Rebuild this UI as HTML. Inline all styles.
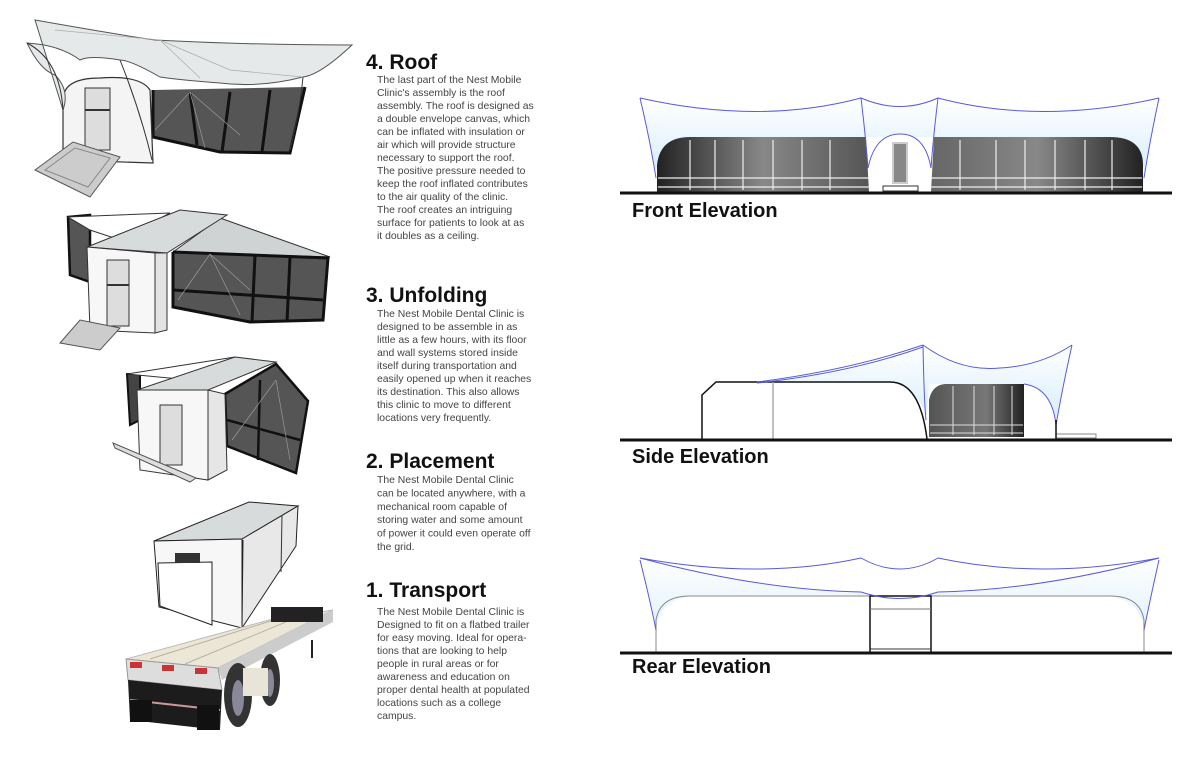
<!DOCTYPE html>
<html><head><meta charset="utf-8"><style>
html,body{margin:0;padding:0;background:#fff;}
svg{display:block;}
.h{font-family:"Liberation Sans",sans-serif;font-weight:bold;fill:#111;}
.b{font-family:"Liberation Sans",sans-serif;font-size:10.4px;fill:#444;}
</style></head><body>
<svg width="1200" height="776" viewBox="0 0 1200 776" xmlns="http://www.w3.org/2000/svg">
<defs>
<linearGradient id="gl" x1="0" x2="1"><stop offset="0" stop-color="#222"/><stop offset="0.5" stop-color="#888"/><stop offset="1" stop-color="#555"/></linearGradient>
<linearGradient id="gr" x1="0" x2="1"><stop offset="0" stop-color="#666"/><stop offset="0.5" stop-color="#888"/><stop offset="1" stop-color="#222"/></linearGradient>
<linearGradient id="gs" x1="0" x2="1"><stop offset="0" stop-color="#555"/><stop offset="0.6" stop-color="#777"/><stop offset="1" stop-color="#222"/></linearGradient>
<linearGradient id="sky" x1="0" y1="0" x2="0" y2="1"><stop offset="0" stop-color="#fff"/><stop offset="1" stop-color="#d8eefb"/></linearGradient>
</defs>

<!-- ===== IMAGE 1: roof ===== -->
<g>
<polygon points="153,90 305,87 290,153 220,152 153,137" fill="#555"/>
<g stroke="#111" stroke-width="3" fill="none"><polyline points="153,90 153,137 220,152 290,153 305,87"/><line x1="190" y1="92" x2="197" y2="145"/><line x1="230" y1="92" x2="222" y2="152"/><line x1="270" y1="90" x2="262" y2="152"/></g>
<g stroke="#999" stroke-width="0.7"><line x1="190" y1="92" x2="155" y2="130"/><line x1="190" y1="92" x2="205" y2="148"/><line x1="190" y1="92" x2="240" y2="135"/></g>
<path d="M63,160 L63,100 Q63,78 100,78 Q140,75 150,90 L153,163 Z" fill="#f4f4f4" stroke="#333" stroke-width="1.2"/>
<rect x="85" y="88" width="25" height="62" fill="#ddd" stroke="#333"/>
<line x1="85" y1="110" x2="110" y2="110" stroke="#333" stroke-width="2"/>
<polygon points="35,170 73,142 120,157 90,197" fill="#ccc" stroke="#555"/>
<polygon points="45,170 75,148 110,158 88,187" fill="none" stroke="#888"/>
<path d="M35,20 Q120,35 155,40 Q250,45 352,45 Q320,75 303,77 Q260,88 220,83 Q180,80 160,77 Q130,60 120,60 Q90,55 80,60 Q60,45 27,43 Q40,70 55,75 Q70,90 63,110 Z" fill="#e6e9e9" stroke="#555"/>
<path d="M27,43 Q60,60 63,110 M120,60 Q140,110 152,160 M303,77 Q300,110 290,150" stroke="#333" fill="none"/>
<path d="M55,30 L160,40 L230,70 L303,77 M160,40 L200,78" stroke="#aaa" fill="none" stroke-width="0.7"/>
</g>

<!-- ===== IMAGE 2: unfolding ===== -->
<g>
<polygon points="68,217 90,215 90,282 70,275" fill="#555" stroke="#111" stroke-width="2.5"/>
<polygon points="68,217 170,213 120,240 90,230" fill="#fff" stroke="#333"/>
<polygon points="220,218 330,257 173,252" fill="#cfd3d3" stroke="#333"/>
<polygon points="173,252 328,258 323,320 250,322 173,307" fill="#555"/>
<g stroke="#111" stroke-width="3" fill="none"><polyline points="173,252 328,258 323,320 250,322 173,307 173,252"/><line x1="255" y1="255" x2="252" y2="322"/><line x1="290" y1="257" x2="287" y2="322"/><line x1="173" y1="290" x2="323" y2="300"/></g>
<g stroke="#999" stroke-width="0.7"><line x1="210" y1="254" x2="178" y2="300"/><line x1="210" y1="254" x2="240" y2="315"/><line x1="210" y1="254" x2="250" y2="290"/></g>
<polygon points="87,247 180,210 227,215 167,253" fill="#d7dbdb" stroke="#333"/>
<polygon points="87,247 155,253 155,333 90,330" fill="#f7f7f7" stroke="#333"/>
<polygon points="155,253 167,253 167,330 155,333" fill="#e3e3e3" stroke="#333"/>
<rect x="107" y="260" width="22" height="66" fill="#ddd" stroke="#333"/>
<line x1="107" y1="285" x2="129" y2="285" stroke="#333" stroke-width="2"/>
<polygon points="60,343 80,320 120,328 100,350" fill="#ccc" stroke="#555"/>
</g>

<!-- ===== IMAGE 3 ===== -->
<g>
<polygon points="127,374 140,374 140,420 130,425" fill="#444" stroke="#111" stroke-width="2"/>
<polygon points="127,374 235,357 190,380" fill="#fff" stroke="#333"/>
<polygon points="225,394 276,364 308,401 296,473 227,446" fill="#555"/>
<g stroke="#111" stroke-width="2.5" fill="none"><polygon points="225,394 276,364 308,401 296,473 227,446"/><line x1="260" y1="380" x2="258" y2="460"/><line x1="227" y1="420" x2="300" y2="440"/></g>
<g stroke="#999" stroke-width="0.7"><line x1="276" y1="380" x2="232" y2="440"/><line x1="276" y1="380" x2="290" y2="460"/></g>
<polygon points="137,390 235,357 276,362 208,390" fill="#d7dbdb" stroke="#333"/>
<polygon points="137,390 208,390 208,480 140,470" fill="#f7f7f7" stroke="#333"/>
<polygon points="208,390 225,394 227,470 208,480" fill="#e6e6e6" stroke="#333"/>
<rect x="160" y="405" width="22" height="60" fill="#ddd" stroke="#333"/>
<polygon points="113,443 196,478 190,482 115,448" fill="#ddd" stroke="#555"/>
</g>

<!-- ===== IMAGE 4 box ===== -->
<g>
<polygon points="154,541 249,502 298,506 242,539" fill="#d7dbdb" stroke="#222"/>
<polygon points="154,541 242,539 242,628 159,607" fill="#f7f7f7" stroke="#222"/>
<polygon points="242,539 298,506 296,546 242,628" fill="#e8e8e8" stroke="#222"/>
<line x1="243" y1="540" x2="242" y2="628" stroke="#222"/>
<line x1="282" y1="515" x2="281" y2="572" stroke="#333"/>
<polygon points="158,563 212,562 212,625 160,606" fill="#fff" stroke="#222"/>
<rect x="175" y="553" width="25" height="10" fill="#333"/>
</g>

<!-- ===== IMAGE 5 trailer ===== -->
<g>
<polygon points="126,659 218,668 333,610 269,620" fill="#ece6d6" stroke="#bbb"/>
<line x1="150" y1="659" x2="280" y2="618" stroke="#b9b2a0"/><line x1="185" y1="664" x2="305" y2="614" stroke="#b9b2a0"/>
<polygon points="218,668 333,610 333,622 222,680" fill="#ccc"/>
<rect x="271" y="607" width="52" height="15" fill="#222"/>
<polygon points="126,659 218,668 222,690 128,680" fill="#ddd" stroke="#999"/>
<rect x="130" y="662" width="12" height="6" fill="#c33"/><rect x="162" y="665" width="12" height="6" fill="#c33"/><rect x="195" y="668" width="12" height="6" fill="#c33"/>
<polygon points="128,680 222,690 220,730 130,720" fill="#1c1c1c"/>
<line x1="130" y1="700" x2="220" y2="710" stroke="#c99" stroke-width="2"/>
<rect x="130" y="700" width="22" height="22" fill="#111"/><rect x="197" y="705" width="22" height="25" fill="#111"/>
<ellipse cx="238" cy="695" rx="14" ry="32" fill="#333"/><ellipse cx="238" cy="698" rx="6" ry="18" fill="#889"/>
<ellipse cx="270" cy="680" rx="10" ry="26" fill="#333"/><ellipse cx="270" cy="683" rx="4" ry="14" fill="#889"/>
<rect x="243" y="668" width="25" height="28" fill="#e8e4d8"/>
<line x1="312" y1="640" x2="312" y2="658" stroke="#222" stroke-width="2"/>
</g>

<!-- ===== TEXT ===== -->
<text class="h" x="366" y="69" font-size="21">4. Roof</text>
<g class="b">
<text x="377" y="83">The last part of the Nest Mobile</text>
<text x="377" y="96">Clinic's assembly is the roof</text>
<text x="377" y="109">assembly. The roof is designed as</text>
<text x="377" y="122">a double envelope canvas, which</text>
<text x="377" y="135">can be inflated with insulation or</text>
<text x="377" y="148">air which will provide structure</text>
<text x="377" y="161">necessary to support the roof.</text>
<text x="377" y="174">The positive pressure needed to</text>
<text x="377" y="187">keep the roof inflated contributes</text>
<text x="377" y="200">to the air quality of the clinic.</text>
<text x="377" y="213">The roof creates an intriguing</text>
<text x="377" y="226">surface for patients to look at as</text>
<text x="377" y="239">it doubles as a ceiling.</text>
</g>
<text class="h" x="366" y="302" font-size="21">3. Unfolding</text>
<g class="b">
<text x="377" y="317">The Nest Mobile Dental Clinic is</text>
<text x="377" y="330">designed to be assemble in as</text>
<text x="377" y="343">little as a few hours, with its floor</text>
<text x="377" y="356">and wall systems stored inside</text>
<text x="377" y="369">itself during transportation and</text>
<text x="377" y="382">easily opened up when it reaches</text>
<text x="377" y="395">its destination. This also allows</text>
<text x="377" y="408">this clinic to move to different</text>
<text x="377" y="421">locations very frequently.</text>
</g>
<text class="h" x="366" y="468" font-size="21">2. Placement</text>
<g class="b">
<text x="377" y="483">The Nest Mobile Dental Clinic</text>
<text x="377" y="496.4">can be located anywhere, with a</text>
<text x="377" y="509.8">mechanical room capable of</text>
<text x="377" y="523.2">storing water and some amount</text>
<text x="377" y="536.6">of power it could even operate off</text>
<text x="377" y="550">the grid.</text>
</g>
<text class="h" x="366" y="597" font-size="21">1. Transport</text>
<g class="b">
<text x="377" y="615">The Nest Mobile Dental Clinic is</text>
<text x="377" y="628">Designed to fit on a flatbed trailer</text>
<text x="377" y="641">for easy moving. Ideal for opera-</text>
<text x="377" y="654">tions that are looking to help</text>
<text x="377" y="667">people in rural areas or for</text>
<text x="377" y="680">awareness and education on</text>
<text x="377" y="693">proper dental health at populated</text>
<text x="377" y="706">locations such as a college</text>
<text x="377" y="719">campus.</text>
</g>

<!-- ===== FRONT ELEVATION ===== -->
<g>
<path d="M640,98 Q760,125 861,98 Q900,115 938,98 Q1040,125 1159,98 L1144,172 Q1140,137 1100,137 L700,137 Q660,137 656,172 Z" fill="url(#sky)"/>
<path d="M657,192 L657,165 Q660,137 690,137 L866,137 L869,192 Z" fill="url(#gl)"/>
<path d="M931,192 L934,137 L1110,137 Q1143,137 1143,165 L1143,192 Z" fill="url(#gr)"/>
<g stroke="#eee" stroke-width="1.2"><line x1="690" y1="140" x2="690" y2="190"/><line x1="715" y1="140" x2="715" y2="190"/><line x1="743" y1="140" x2="743" y2="190"/><line x1="773" y1="140" x2="773" y2="190"/><line x1="802" y1="140" x2="802" y2="190"/><line x1="830" y1="140" x2="830" y2="190"/><line x1="960" y1="140" x2="960" y2="190"/><line x1="996" y1="140" x2="996" y2="190"/><line x1="1025" y1="140" x2="1025" y2="190"/><line x1="1055" y1="140" x2="1055" y2="190"/><line x1="1085" y1="140" x2="1085" y2="190"/><line x1="1112" y1="140" x2="1112" y2="190"/><line x1="658" y1="178" x2="1142" y2="178"/><line x1="658" y1="187" x2="1142" y2="187"/></g>
<path d="M869,192 L869,165 Q875,134 900,134 Q925,134 931,165 L931,192 Z" fill="#fff"/>
<rect x="893" y="143" width="14" height="40" fill="#888" stroke="#ccc" stroke-width="2"/>
<rect x="883" y="186" width="35" height="5" fill="none" stroke="#333"/>
<g stroke="#5a5ad8" stroke-width="1" fill="none">
<path d="M640,98 Q760,125 861,98 Q900,115 938,98 Q1040,125 1159,98"/>
<path d="M640,98 Q650,140 656,178"/><path d="M1159,98 Q1150,140 1144,178"/>
<path d="M861,98 Q866,140 868,168"/><path d="M938,98 Q933,140 931,168"/>
<path d="M868,168 Q875,134 900,134 Q925,134 931,168"/>
</g>
<line x1="620" y1="193" x2="1172" y2="193" stroke="#111" stroke-width="3"/>
<text class="h" x="632" y="217" font-size="20">Front Elevation</text>
</g>

<!-- ===== SIDE ELEVATION ===== -->
<g>
<path d="M757,382 Q850,370 923,345 Q960,372 1000,368 Q1040,366 1072,345 L1056,420 Q1050,388 1024,384 L929,384 L927,415 Q910,382 890,382 Z" fill="url(#sky)"/>
<path d="M702,439 L702,395 L716,382 L890,382 Q920,382 927,439" fill="#fff" stroke="#111" stroke-width="1.5"/>
<line x1="773" y1="382" x2="773" y2="439" stroke="#aaa" stroke-width="1.5"/>
<path d="M929,437 L929,400 Q932,385 945,384 L1024,384 L1024,437 Z" fill="url(#gs)"/>
<g stroke="#ddd" stroke-width="1"><line x1="953" y1="386" x2="953" y2="435"/><line x1="974" y1="386" x2="974" y2="435"/><line x1="994" y1="386" x2="994" y2="435"/><line x1="1012" y1="386" x2="1012" y2="435"/><line x1="930" y1="425" x2="1023" y2="425"/><line x1="930" y1="433" x2="1023" y2="433"/></g>
<rect x="1056" y="434" width="40" height="4" fill="none" stroke="#888"/>
<g stroke="#5a5ad8" stroke-width="1" fill="none">
<path d="M757,382 Q850,370 923,345"/><path d="M757,383 Q850,373 923,347"/>
<path d="M923,345 Q960,372 1000,368 Q1040,366 1072,345"/>
<path d="M923,345 Q924,400 926,420"/>
<path d="M1072,345 Q1062,390 1056,425 M1056,425 Q1052,388 1024,384"/>
</g>
<line x1="1056" y1="420" x2="1056" y2="439" stroke="#111" stroke-width="1.5"/>
<line x1="620" y1="440" x2="1172" y2="440" stroke="#111" stroke-width="3"/>
<text class="h" x="632" y="463" font-size="20">Side Elevation</text>
</g>

<!-- ===== REAR ELEVATION ===== -->
<g>
<path d="M640,558 Q760,590 861,592 Q900,605 938,592 Q1040,590 1159,558 L1144,630 Q1140,596 1100,596 L700,596 Q660,596 656,630 Z" fill="url(#sky)" opacity="0.8"/>
<rect x="700" y="597" width="400" height="55" fill="#fff"/>
<path d="M656,652 L656,620 Q660,596 690,596 L1110,596 Q1140,596 1144,620 L1144,652" fill="none" stroke="#888" stroke-width="1"/>
<rect x="870" y="596" width="61" height="57" fill="#fff" stroke="#111" stroke-width="1.5"/>
<line x1="870" y1="609" x2="931" y2="609" stroke="#777"/><line x1="870" y1="649" x2="931" y2="649" stroke="#333"/>
<g stroke="#5a5ad8" stroke-width="1" fill="none">
<path d="M640,558 Q760,580 861,558 Q900,580 938,558 Q1040,580 1159,558"/>
<path d="M640,558 Q760,590 861,592 Q900,605 938,592 Q1040,590 1159,558"/>
<path d="M640,560 Q650,600 656,630"/><path d="M1159,560 Q1150,600 1144,630"/>
</g>
<line x1="620" y1="653" x2="1172" y2="653" stroke="#111" stroke-width="3"/>
<text class="h" x="632" y="673" font-size="20">Rear Elevation</text>
</g>
</svg>
</body></html>
